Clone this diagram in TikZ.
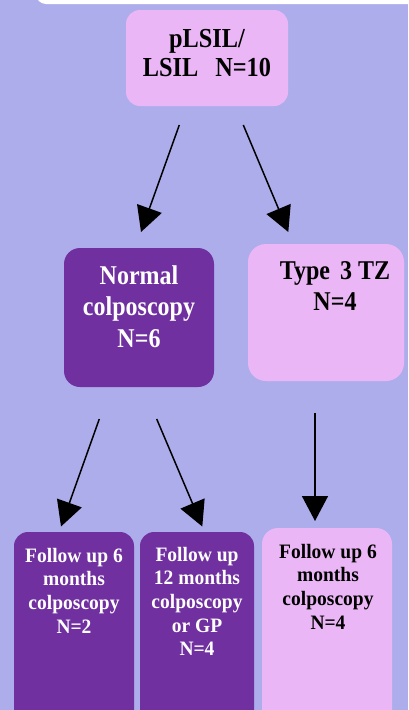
\documentclass[tikz,border=0pt]{standalone}
\usepackage{fontspec}
\usepackage{graphicx}
\setmainfont{Liberation Serif}
\usetikzlibrary{arrows.meta}
\definecolor{bgblue}{HTML}{ADADEB}
\definecolor{pinkfill}{HTML}{EBB6F5}
\definecolor{purplefill}{HTML}{7030A0}
\newcommand\mlines[4]{\scalebox{1}[#3]{\fontsize{#1}{#2}\selectfont\bfseries\begin{tabular}[t]{@{}c@{}}#4\end{tabular}}}
\tikzset{
  pinkbox/.style={fill=pinkfill, draw=none, rounded corners=14pt, inner sep=0pt},
  purplebox/.style={fill=purplefill, draw=none, rounded corners=14pt, inner sep=0pt},
  darktext/.style={anchor=base, inner sep=0pt, text=black},
  lighttext/.style={anchor=base, inner sep=0pt, text=white},
  conn/.style={line width=1.5pt, -{Triangle[length=25pt,width=26pt]}}
}
\begin{document}
\begin{tikzpicture}[x=1pt,y=-1pt]
\useasboundingbox (0,0) rectangle (408,710);
\clip (0,0) rectangle (408,710);
\fill[bgblue] (0,0) rectangle (408,710);
\fill[white, rounded corners=10pt] (36,-30) rectangle (440,4);

% boxes
\node[pinkbox, minimum width=162pt, minimum height=96pt] (b1) at (207,58) {};
\node[purplebox, minimum width=150pt, minimum height=139pt, rounded corners=16pt] (b2) at (139,317.5) {};
\node[pinkbox, minimum width=156pt, minimum height=137pt, rounded corners=18pt] (b3) at (326,312.5) {};
\node[purplebox, minimum width=120pt, minimum height=200pt] (b4) at (74,632) {};
\node[purplebox, minimum width=114pt, minimum height=200pt] (b5) at (197,632) {};
\node[pinkbox, minimum width=130pt, minimum height=204pt, rounded corners=16pt] (b6) at (327,630) {};

% texts
\node[darktext] (t1) at (207,47) {\mlines{24.3}{25.7}{1.13}{pLSIL/\\LSIL\hspace{17pt}N=10}};
\node[lighttext] (t2) at (139,284) {\mlines{24}{28.3}{1.13}{Normal\\colposcopy\\N=6}};
\node[darktext] (t3) at (335,279) {\mlines{24}{28.3}{1.13}{Type\hspace{10pt}3 TZ\\N=4}};
\node[lighttext] (t4) at (74,562) {\mlines{19.5}{22.6}{1.05}{Follow up 6\\months\\colposcopy\\N=2}};
\node[lighttext] (t5) at (197,561) {\mlines{19.5}{22.6}{1.05}{Follow up\\12 months\\colposcopy\\or GP\\N=4}};
\node[darktext] (t6) at (328,558) {\mlines{19.5}{22.6}{1.05}{Follow up 6\\months\\colposcopy\\N=4}};

% connector ends
\coordinate (a1s) at (179.3,125);
\coordinate (a1e) at (141,232);
\coordinate (a2s) at (243.3,125);
\coordinate (a2e) at (288.3,232);
\coordinate (a3s) at (99.3,419);
\coordinate (a3e) at (61,526.5);
\coordinate (a4s) at (156.7,419);
\coordinate (a4e) at (202.3,526.5);
\coordinate (a5s) at (315,413);
\coordinate (a5e) at (315,521);

\draw[conn] (a1s) -- (a1e);
\draw[conn] (a2s) -- (a2e);
\draw[conn] (a3s) -- (a3e);
\draw[conn] (a4s) -- (a4e);
\draw[conn] (a5s) -- (a5e);
\end{tikzpicture}
\end{document}
